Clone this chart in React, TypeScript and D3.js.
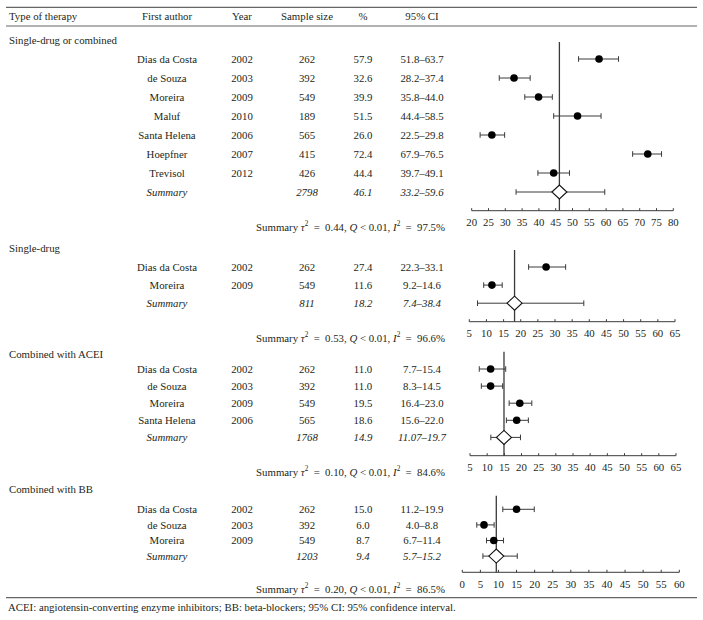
import React from "react";
import * as d3 from "d3";

// ---------- DATA ----------
const headers = ["Type of therapy", "First author", "Year", "Sample size", "%", "95% CI"];
const sectionNames = ["Single-drug or combined", "Single-drug", "Combined with ACEI", "Combined with BB"];

const s1Authors = ["Dias da Costa", "de Souza", "Moreira", "Maluf", "Santa Helena", "Hoepfner", "Trevisol"];
const s1Years = [2002, 2003, 2009, 2010, 2006, 2007, 2012];
const s1N = [262, 392, 549, 189, 565, 415, 426];
const s1Pct = [57.9, 32.6, 39.9, 51.5, 26.0, 72.4, 44.4];
const s1Lo = [51.8, 28.2, 35.8, 44.4, 22.5, 67.9, 39.7];
const s1Hi = [63.7, 37.4, 44.0, 58.5, 29.8, 76.5, 49.1];
const s1Summary = [2798, 46.1, 33.2, 59.6];
const s1Stats = ["0.44", "0.01", "97.5"];
const s1Domain = [20, 80];

const s2Authors = ["Dias da Costa", "Moreira"];
const s2Years = [2002, 2009];
const s2N = [262, 549];
const s2Pct = [27.4, 11.6];
const s2Lo = [22.3, 9.2];
const s2Hi = [33.1, 14.6];
const s2Summary = [811, 18.2, 7.4, 38.4];
const s2Stats = ["0.53", "0.01", "96.6"];
const s2Domain = [5, 65];

const s3Authors = ["Dias da Costa", "de Souza", "Moreira", "Santa Helena"];
const s3Years = [2002, 2003, 2009, 2006];
const s3N = [262, 392, 549, 565];
const s3Pct = [11.0, 11.0, 19.5, 18.6];
const s3Lo = [7.7, 8.3, 16.4, 15.6];
const s3Hi = [15.4, 14.5, 23.0, 22.0];
const s3Summary = [1768, 14.9, 11.07, 19.7];
const s3Stats = ["0.10", "0.01", "84.6"];
const s3Domain = [5, 65];

const s4Authors = ["Dias da Costa", "de Souza", "Moreira"];
const s4Years = [2002, 2003, 2009];
const s4N = [262, 392, 549];
const s4Pct = [15.0, 6.0, 8.7];
const s4Lo = [11.2, 4.0, 6.7];
const s4Hi = [19.9, 8.8, 11.4];
const s4Summary = [1203, 9.4, 5.7, 15.2];
const s4Stats = ["0.20", "0.01", "86.5"];
const s4Domain = [0, 60];

const footnote = "ACEI: angiotensin-converting enzyme inhibitors; BB: beta-blockers; 95% CI: 95% confidence interval.";

// ---------- LAYOUT ----------
const W = 703;
const H = 620;
const FONT = "'Liberation Serif', 'DejaVu Serif', serif";
const TXT = "#231f20";
const colX = { type: 9, author: 167, year: 242, n: 307, pct: 363, ci: 422 };

const layouts = [
  { labelY: 40, vTop: 42, rowY0: 59, step: 19, axisY: 210.7, x0: 471.7, x1: 673.3 },
  { labelY: 248, vTop: 250, rowY0: 267, step: 18.1, axisY: 321.7, x0: 469.3, x1: 675 },
  { labelY: 354, vTop: 351.7, rowY0: 369, step: 17.1, axisY: 455.7, x0: 470, x1: 676 },
  { labelY: 489, vTop: 495.7, rowY0: 509.3, step: 15.6, axisY: 572.3, x0: 462.3, x1: 679.3 },
];

const sections = [
  { authors: s1Authors, years: s1Years, n: s1N, pct: s1Pct, lo: s1Lo, hi: s1Hi, summary: s1Summary, stats: s1Stats, domain: s1Domain },
  { authors: s2Authors, years: s2Years, n: s2N, pct: s2Pct, lo: s2Lo, hi: s2Hi, summary: s2Summary, stats: s2Stats, domain: s2Domain },
  { authors: s3Authors, years: s3Years, n: s3N, pct: s3Pct, lo: s3Lo, hi: s3Hi, summary: s3Summary, stats: s3Stats, domain: s3Domain },
  { authors: s4Authors, years: s4Years, n: s4N, pct: s4Pct, lo: s4Lo, hi: s4Hi, summary: s4Summary, stats: s4Stats, domain: s4Domain },
];

function fmt(v: number): string {
  const t = v * 10;
  return Math.abs(t - Math.round(t)) < 1e-9 ? v.toFixed(1) : String(v);
}

const FS = 10.8;
const EN = "\u2002";

function Section({ sec, lay, name }: any) {
  const x = d3.scaleLinear().domain(sec.domain).range([lay.x0, lay.x1]);
  const nRows = sec.authors.length;
  const rowY = (i: number) => lay.rowY0 + i * lay.step;
  const sumY = rowY(nRows);
  const [sN, sPct, sLo, sHi] = sec.summary;
  const ticks = x.ticks(12);
  const lineCol = "#3a3a3a";
  const cap = 2.8;
  const dW = 7.5;
  const dH = 7;
  return (
    <g>
      <text x={colX.type} y={lay.labelY} dy="0.35em" fontSize={FS}>{name}</text>
      {sec.authors.map((a: string, i: number) => (
        <g key={i}>
          <text x={colX.author} y={rowY(i)} dy="0.35em" textAnchor="middle" fontSize={FS}>{a}</text>
          <text x={colX.year} y={rowY(i)} dy="0.35em" textAnchor="middle" fontSize={FS}>{sec.years[i]}</text>
          <text x={colX.n} y={rowY(i)} dy="0.35em" textAnchor="middle" fontSize={FS}>{sec.n[i]}</text>
          <text x={colX.pct} y={rowY(i)} dy="0.35em" textAnchor="middle" fontSize={FS}>{fmt(sec.pct[i])}</text>
          <text x={colX.ci} y={rowY(i)} dy="0.35em" textAnchor="middle" fontSize={FS}>{fmt(sec.lo[i]) + "\u2013" + fmt(sec.hi[i])}</text>
        </g>
      ))}
      <g fontStyle="italic">
        <text x={colX.author} y={sumY} dy="0.35em" textAnchor="middle" fontSize={FS}>Summary</text>
        <text x={colX.n} y={sumY} dy="0.35em" textAnchor="middle" fontSize={FS}>{sN}</text>
        <text x={colX.pct} y={sumY} dy="0.35em" textAnchor="middle" fontSize={FS}>{fmt(sPct)}</text>
        <text x={colX.ci} y={sumY} dy="0.35em" textAnchor="middle" fontSize={FS}>{fmt(sLo) + "\u2013" + fmt(sHi)}</text>
      </g>
      <text x={445} y={lay.axisY + 16.5} dy="0.35em" textAnchor="end" fontSize={FS}>
        <tspan>Summary </tspan>
        <tspan fontStyle="italic">τ</tspan>
        <tspan dy={-4.5} fontSize={7.2}>2</tspan>
        <tspan dy={4.5}>{EN + "=" + EN + sec.stats[0] + ", "}</tspan>
        <tspan fontStyle="italic">Q</tspan>
        <tspan>{" < " + sec.stats[1] + ", "}</tspan>
        <tspan fontStyle="italic">I</tspan>
        <tspan dy={-4.5} fontSize={7.2}>2</tspan>
        <tspan dy={4.5}>{EN + "=" + EN + sec.stats[2] + "%"}</tspan>
      </text>

      {/* forest plot */}
      <line x1={x(sPct)} x2={x(sPct)} y1={lay.vTop} y2={lay.axisY} stroke={lineCol} strokeWidth={1.3} />
      {sec.authors.map((a: string, i: number) => (
        <g key={"p" + i} stroke={lineCol} strokeWidth={1}>
          <line x1={x(sec.lo[i])} x2={x(sec.hi[i])} y1={rowY(i)} y2={rowY(i)} />
          <line x1={x(sec.lo[i])} x2={x(sec.lo[i])} y1={rowY(i) - cap} y2={rowY(i) + cap} />
          <line x1={x(sec.hi[i])} x2={x(sec.hi[i])} y1={rowY(i) - cap} y2={rowY(i) + cap} />
          <circle cx={x(sec.pct[i])} cy={rowY(i)} r={3.8} fill="#000" stroke="none" />
        </g>
      ))}
      <g stroke={lineCol} strokeWidth={1}>
        <line x1={x(sLo)} x2={x(sHi)} y1={sumY} y2={sumY} />
        <line x1={x(sLo)} x2={x(sLo)} y1={sumY - cap} y2={sumY + cap} />
        <line x1={x(sHi)} x2={x(sHi)} y1={sumY - cap} y2={sumY + cap} />
        <path
          d={`M${x(sPct) - dW},${sumY} L${x(sPct)},${sumY - dH} L${x(sPct) + dW},${sumY} L${x(sPct)},${sumY + dH} Z`}
          fill="#fff"
          stroke="#111"
          strokeWidth={1.1}
        />
      </g>
      {/* axis */}
      <line x1={x(sec.domain[0])} x2={x(sec.domain[1])} y1={lay.axisY} y2={lay.axisY} stroke={lineCol} strokeWidth={1} />
      {ticks.map((t: number) => (
        <g key={"t" + t}>
          <line x1={x(t)} x2={x(t)} y1={lay.axisY - 2.5} y2={lay.axisY} stroke={lineCol} strokeWidth={1} />
          <text x={x(t)} y={lay.axisY + 11.5} dy="0.35em" textAnchor="middle" fontSize={FS}>{t}</text>
        </g>
      ))}
    </g>
  );
}

export default function App() {
  return (
    <svg width={W} height={H} style={{ position: "absolute", left: 0, top: 0, background: "#fff" }} fontFamily={FONT} fill={TXT}>
      <rect x={0} y={0} width={W} height={H} fill="#fff" />
      <line x1={6} x2={697} y1={7.3} y2={7.3} stroke="#666" strokeWidth={1.2} />
      <text x={colX.type} y={16} dy="0.35em" fontSize={FS}>{headers[0]}</text>
      <text x={colX.author} y={16} dy="0.35em" textAnchor="middle" fontSize={FS}>{headers[1]}</text>
      <text x={colX.year} y={16} dy="0.35em" textAnchor="middle" fontSize={FS}>{headers[2]}</text>
      <text x={colX.n} y={16} dy="0.35em" textAnchor="middle" fontSize={FS}>{headers[3]}</text>
      <text x={colX.pct} y={16} dy="0.35em" textAnchor="middle" fontSize={FS}>{headers[4]}</text>
      <text x={colX.ci} y={16} dy="0.35em" textAnchor="middle" fontSize={FS}>{headers[5]}</text>
      <line x1={6} x2={697} y1={26} y2={26} stroke="#666" strokeWidth={1.2} />
      {sections.map((s, i) => (
        <Section key={i} sec={s} lay={layouts[i]} name={sectionNames[i]} />
      ))}
      <line x1={6} x2={697} y1={597.7} y2={597.7} stroke="#666" strokeWidth={1.2} />
      <text x={8} y={607.5} dy="0.35em" fontSize={FS}>{footnote}</text>
    </svg>
  );
}
